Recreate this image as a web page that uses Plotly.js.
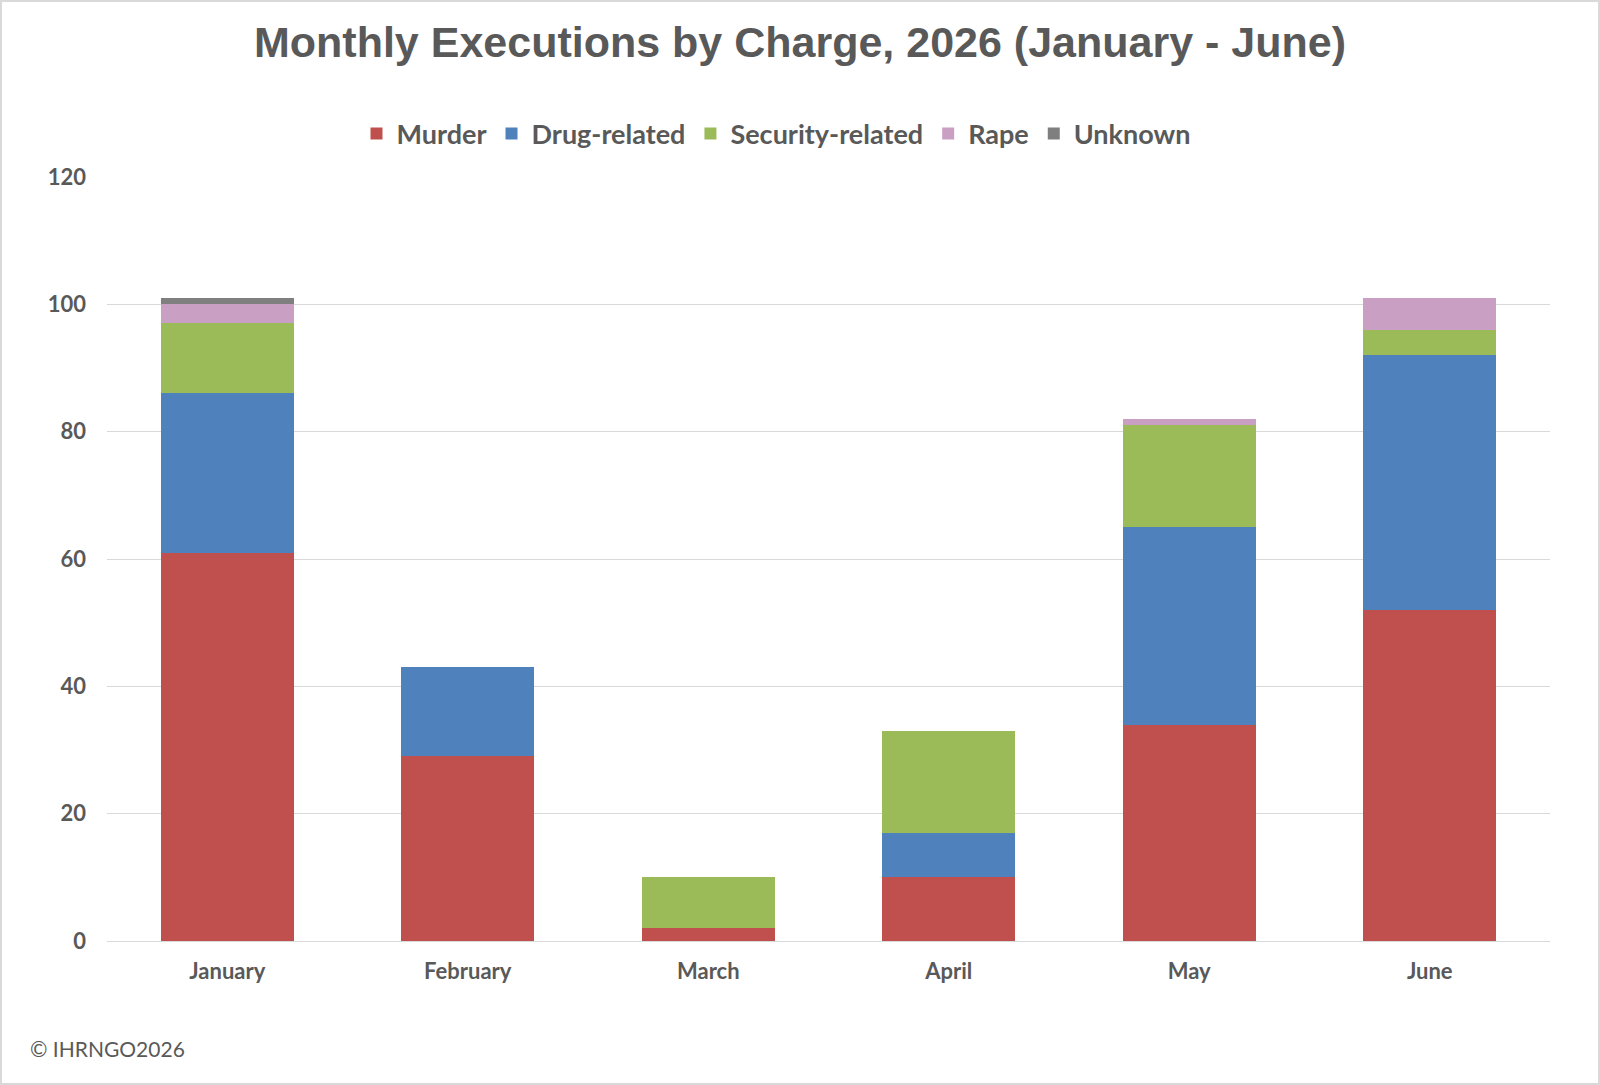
<!DOCTYPE html>
<html><head><meta charset="utf-8">
<script src="https://cdn.plot.ly/plotly-3.0.1.min.js"></script>
<style>html,body{margin:0;padding:0;background:#fff}#chart{width:1600px;height:1085px}</style>
</head><body><div id="chart"></div>
<script>
const months = ["January","February","March","April","May","June"];
const murder = [61, 29, 2, 10, 34, 52];
const drug = [25, 14, 0, 7, 31, 40];
const security = [11, 0, 8, 16, 16, 4];
const rape = [3, 0, 0, 0, 1, 5];
const unknown = [1, 0, 0, 0, 0, 0];
const seriesNames = ["Murder","Drug-related","Security-related","Rape","Unknown"];
const seriesColors = ["#C0504D","#4F81BD","#9BBB59","#C9A0C4","#7F7F7F"];
const seriesValues = [murder, drug, security, rape, unknown];
const yTicks = [0,20,40,60,80,100,120];

const traces = seriesValues.map((v,i)=>({
  type:'bar', x:months, y:v, name:seriesNames[i],
  marker:{color:seriesColors[i]}, hoverinfo:'x+y+name'
}));

const W = 1600, H = 1085;
const mL = 107, mR = 50, mT = 177, mB = 144;
const pw = W - mL - mR, ph = H - mT - mB;
const px = x => (x - mL) / pw;          // pixel -> paper x
const py = y => (H - mB - y) / ph;      // pixel -> paper y
const tickFont = {family:'Lato, Open Sans, sans-serif', size:22, color:'#595959', weight:'bold'};

const layout = {
  width:W, height:H,
  paper_bgcolor:'#fff', plot_bgcolor:'#fff',
  barmode:'stack', bargap:0.447,
  margin:{l:mL, r:mR, t:mT, b:mB},
  title:{text:'Monthly Executions by Charge, 2026 (January - June)',
    font:{family:'Liberation Sans, Arial, sans-serif', size:43, color:'#595959', weight:'bold'},
    x:0.5, xref:'container', xanchor:'center', y:1 - 42/H, yref:'container', yanchor:'middle'},
  showlegend:true,
  legend:{orientation:'h', x:px(776), xanchor:'center', y:py(134), yanchor:'middle',
    font:{family:'Lato, Open Sans, sans-serif', size:27, color:'#595959', weight:'bold'},
    traceorder:'normal'},
  xaxis:{showgrid:false, showline:true, linecolor:'#D9D9D9', linewidth:1,
    ticks:'', ticklabelstandoff:11, tickfont:tickFont},
  yaxis:{range:[0,120], tickvals:yTicks, ticktext:yTicks.map(String),
    showgrid:true, gridcolor:'#D9D9D9', gridwidth:1, zeroline:false, showline:false,
    ticks:'', ticklabelstandoff:20, tickfont:tickFont},
  shapes:[{type:'rect', xref:'paper', yref:'paper', x0:px(1), x1:px(W-1), y0:py(H-1), y1:py(1),
    line:{color:'#D9D9D9', width:2}, fillcolor:'rgba(0,0,0,0)'}],
  annotations:[{text:'© IHRNGO2026', xref:'paper', yref:'paper', x:px(28), xanchor:'left',
    y:py(1048), yanchor:'middle', showarrow:false,
    font:{family:'Lato, Open Sans, sans-serif', size:21, color:'#595959'}}]
};
Plotly.newPlot('chart', traces, layout, {displayModeBar:false, staticPlot:true});
</script></body></html>
